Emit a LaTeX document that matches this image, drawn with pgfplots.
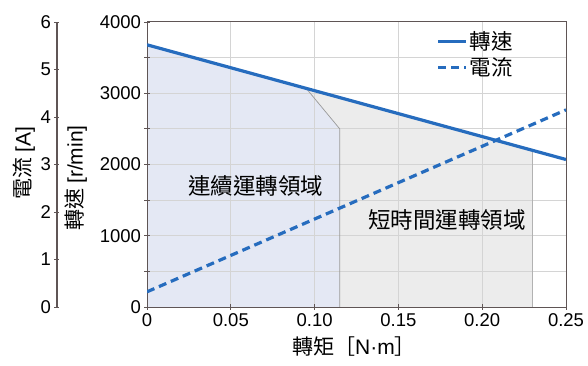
\documentclass[border=0pt]{standalone}
\usepackage{pgfplots}
\pgfplotsset{compat=1.18}
\usepackage{fontspec}
\setmainfont{Liberation Sans}
\newfontfamily\cjk{Noto Sans CJK TC}
\definecolor{lineblue}{RGB}{38,108,190}
\definecolor{contfill}{RGB}{228,232,244}
\definecolor{shortfill}{RGB}{236,236,236}
\definecolor{gridc}{RGB}{212,212,212}
\definecolor{axc}{RGB}{95,85,85}
\pgfplotsset{set layers}
\begin{document}
\begin{tikzpicture}
\begin{axis}[
  at={(0bp,0bp)}, anchor=south west,
  scale only axis, width=419bp, height=285bp,
  xmin=0, xmax=0.25, ymin=0, ymax=4000,
  xtick={0,0.05,0.10,0.15,0.20,0.25},
  xticklabels={0,0.05,0.10,0.15,0.20,0.25},
  ytick={0,500,1000,1500,2000,2500,3000,3500,4000},
  yticklabels={0,,1000,,2000,,3000,,4000},
  axis line style={axc, line width=1bp},
  tick style={axc, line width=0.8bp},
  major tick length=5bp,
  tick align=center,
  xtick pos=bottom, ytick pos=left,
  tick label style={font=\fontsize{18.5bp}{20bp}\selectfont},
  xticklabel style={yshift=-1bp},
  /pgf/number format/assume math mode=true,
  unbounded coords=jump,
  legend style={draw=none, fill=none, at={(rel axis cs:0.885,0.98)}, anchor=north east,
    font=\cjk\fontsize{21.5bp}{24bp}\selectfont, row sep=2.5bp, cells={anchor=west}},
  legend image code/.code={\draw[#1] (0bp,0bp) -- (28bp,0bp);},
]
\addplot[draw=none, fill=shortfill, forget plot, on layer=axis background] coordinates {(0.095,3068) (0.23,2199) (0.23,0) (0.115,0) (0.115,2500)} -- cycle;
\addplot[draw=none, fill=contfill, forget plot, on layer=axis background] coordinates {(0,0) (0,3680) (0.095,3068) (0.115,2500) (0.115,0)} -- cycle;
% grid lines
\addplot[draw=gridc, line width=1bp, forget plot, on layer=axis background] coordinates {
 (0.05,0) (0.05,4000) (nan,nan)
 (0.10,0) (0.10,4000) (nan,nan)
 (0.15,0) (0.15,4000) (nan,nan)
 (0.20,0) (0.20,4000) (nan,nan)
 (0,500) (0.25,500) (nan,nan)
 (0,1000) (0.25,1000) (nan,nan)
 (0,1500) (0.25,1500) (nan,nan)
 (0,2000) (0.25,2000) (nan,nan)
 (0,2500) (0.25,2500) (nan,nan)
 (0,3000) (0.25,3000) (nan,nan)
 (0,3500) (0.25,3500)
};
\addplot[draw=gray!80, line width=0.7bp, forget plot] coordinates {(0.095,3068) (0.115,2500) (0.115,0)};
\addplot[draw=gray!60, line width=0.7bp, forget plot] coordinates {(0.23,2199) (0.23,0)};
\addplot[lineblue, line width=3.2bp] coordinates {(0,3680) (0.25,2070)};
\addlegendentry{轉速}
\addlegendimage{lineblue, line width=3.2bp, dash pattern=on 8bp off 5bp}
\addlegendentry{電流}
\node[font=\cjk\fontsize{22.5bp}{24bp}\selectfont] at (axis cs:0.065,1700) {連續運轉領域};
\node[font=\cjk\fontsize{22.5bp}{24bp}\selectfont] at (axis cs:0.179,1221) {短時間運轉領域};
\end{axis}
% current series, same frame as main axis
\begin{axis}[
  at={(0bp,0bp)}, anchor=south west,
  scale only axis, width=419bp, height=285bp,
  xmin=0, xmax=0.25, ymin=0, ymax=6,
  axis lines=none,
]
\addplot[lineblue, line width=3.2bp, dash pattern=on 8bp off 5bp] coordinates {(0,0.32) (0.25,4.15)};
\end{axis}
% outer current scale
\begin{axis}[
  at={(-90bp,0bp)}, anchor=south west,
  scale only axis, width=419bp, height=285bp,
  xmin=0, xmax=0.25, ymin=0, ymax=6,
  hide x axis,
  axis y line*=left,
  ytick={0,1,2,3,4,5,6},
  axis line style={axc, line width=1.2bp, -},
  tick style={axc, line width=0.8bp},
  major tick length=5bp,
  tick align=center,
  tick label style={font=\fontsize{18.5bp}{20bp}\selectfont},
  /pgf/number format/assume math mode=true,
]
\addplot[draw=none] coordinates {(0,0) (0.25,6)};
\end{axis}
\node[font=\cjk\fontsize{21bp}{24bp}\selectfont, rotate=90] at (-123bp,144bp) {電流 {\rmfamily[A]}};
\node[font=\cjk\fontsize{21bp}{24bp}\selectfont, rotate=90] at (-71bp,129bp) {轉速 {\rmfamily [r/min]}};
\node[font=\cjk\fontsize{21bp}{24bp}\selectfont] at (207bp,-40bp) {轉矩［{\rmfamily N·m}］};
\pgfresetboundingbox
\path[use as bounding box] (-147bp,-59bp) rectangle (441bp,307bp);
\end{tikzpicture}
\end{document}
